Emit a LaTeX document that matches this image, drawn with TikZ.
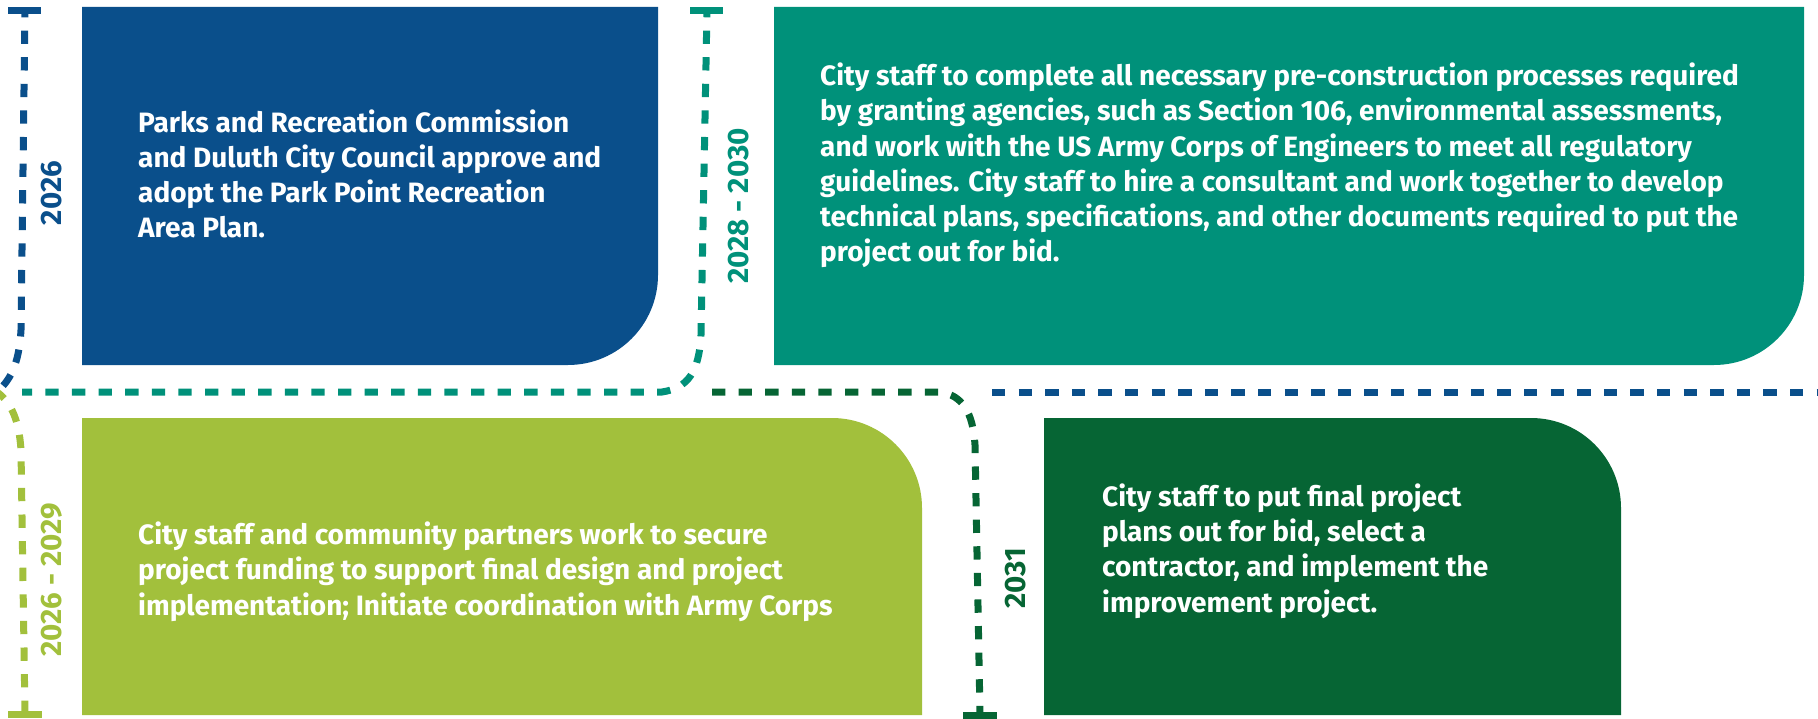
\documentclass[tikz,border=0pt]{standalone}
\usepackage{fontspec}
\newfontfamily\boxfont{Fira Sans Bold}
\definecolor{blueC}{HTML}{0A4F8B}
\definecolor{tealC}{HTML}{00917A}
\definecolor{limeC}{HTML}{A2C03C}
\definecolor{dgreenC}{HTML}{066534}
\tikzset{
  dline/.style={line width=7pt, dash pattern=on 13.3pt off 13.3pt},
  tbar/.style={line width=7pt},
  boxtext/.style={anchor=base west, inner sep=0pt, text=white, align=left,
    font=\boxfont\fontsize{28}{35.3}\selectfont},
  yearlabel/.style={rotate=90, inner sep=0pt, font=\boxfont\fontsize{29.5}{29.5}\selectfont},
}
\begin{document}
\begin{tikzpicture}[x=1pt,y=-1pt]
\useasboundingbox (0,0) rectangle (1818,719);
\clip (0,0) rectangle (1818,719);
% boxes
\fill[blueC] (82,7) -- (658,7) -- (658,275) .. controls (658,324.7) and (617.7,365) .. (568,365) -- (82,365) -- cycle;
\fill[tealC] (774,7) -- (1804,7) -- (1804,275) .. controls (1804,324.7) and (1763.7,365) .. (1714,365) -- (774,365) -- cycle;
\fill[limeC] (82,418) -- (832,418) .. controls (881.7,418) and (922,458.3) .. (922,508) -- (922,715) -- (82,715) -- cycle;
\fill[dgreenC] (1044,418) -- (1531,418) .. controls (1580.7,418) and (1621,458.3) .. (1621,508) -- (1621,715) -- (1044,715) -- cycle;
% timeline coordinates
\coordinate (bTop) at (25,10);
\coordinate (tTop) at (707,10);
\coordinate (lBot) at (25,714);
\coordinate (gBot) at (980,714);
% T bars
\draw[tbar, blueC] (8,10.5) -- (41,10.5);
\draw[tbar, tealC] (690,10.5) -- (723,10.5);
\draw[tbar, limeC] (8,714) -- (42,714);
\draw[tbar, dgreenC] (963,715) -- (997,715);
% dashed lines
\draw[dline, blueC, dash phase=6] (bTop) -- (21,330) .. controls (19,365) and (10,382) .. (-6,394);
\draw[dline, limeC] (-6,390) .. controls (10,400) and (19,418) .. (21,450) -- (lBot);
\draw[dline, tealC, dash phase=6] (tTop) -- (701,335) .. controls (699,372) and (688,388) .. (662,392) -- (22,392);
\draw[dline, dgreenC] (712,392) -- (940,392) .. controls (962,395) and (973,412) .. (975,445) -- (gBot);
\draw[dline, blueC] (992,392) -- (1830,392);
% texts (anchored at the baseline of the last line)
\node[boxtext] (t1) at (138,238) {Parks and Recreation Commission\\and Duluth City Council approve and\\adopt the Park Point Recreation\\Area Plan.};
\node[boxtext] (t2) at (820,262) {City staff to complete all necessary pre-construction processes required\\by granting agencies, such as Section 106, environmental assessments,\\and work with the US Army Corps of Engineers to meet all regulatory\\guidelines. City staff to hire a consultant and work together to develop\\technical plans, specifications, and other documents required to put the\\project out for bid.};
\node[boxtext] (t3) at (138,615) {City staff and community partners work to secure\\project funding to support final design and project\\implementation; Initiate coordination with Army Corps};
\node[boxtext] (t4) at (1102,612) {City staff to put final project\\plans out for bid, select a\\contractor, and implement the\\improvement project.};
% year labels
\node[yearlabel, text=blueC] (y1) at (52,193) {2026};
\node[yearlabel, text=tealC] (y2) at (739,206) {2028 - 2030};
\node[yearlabel, text=limeC] (y3) at (52,580) {2026 - 2029};
\node[yearlabel, text=dgreenC] (y4) at (1016,578) {2031};
\end{tikzpicture}
\end{document}
